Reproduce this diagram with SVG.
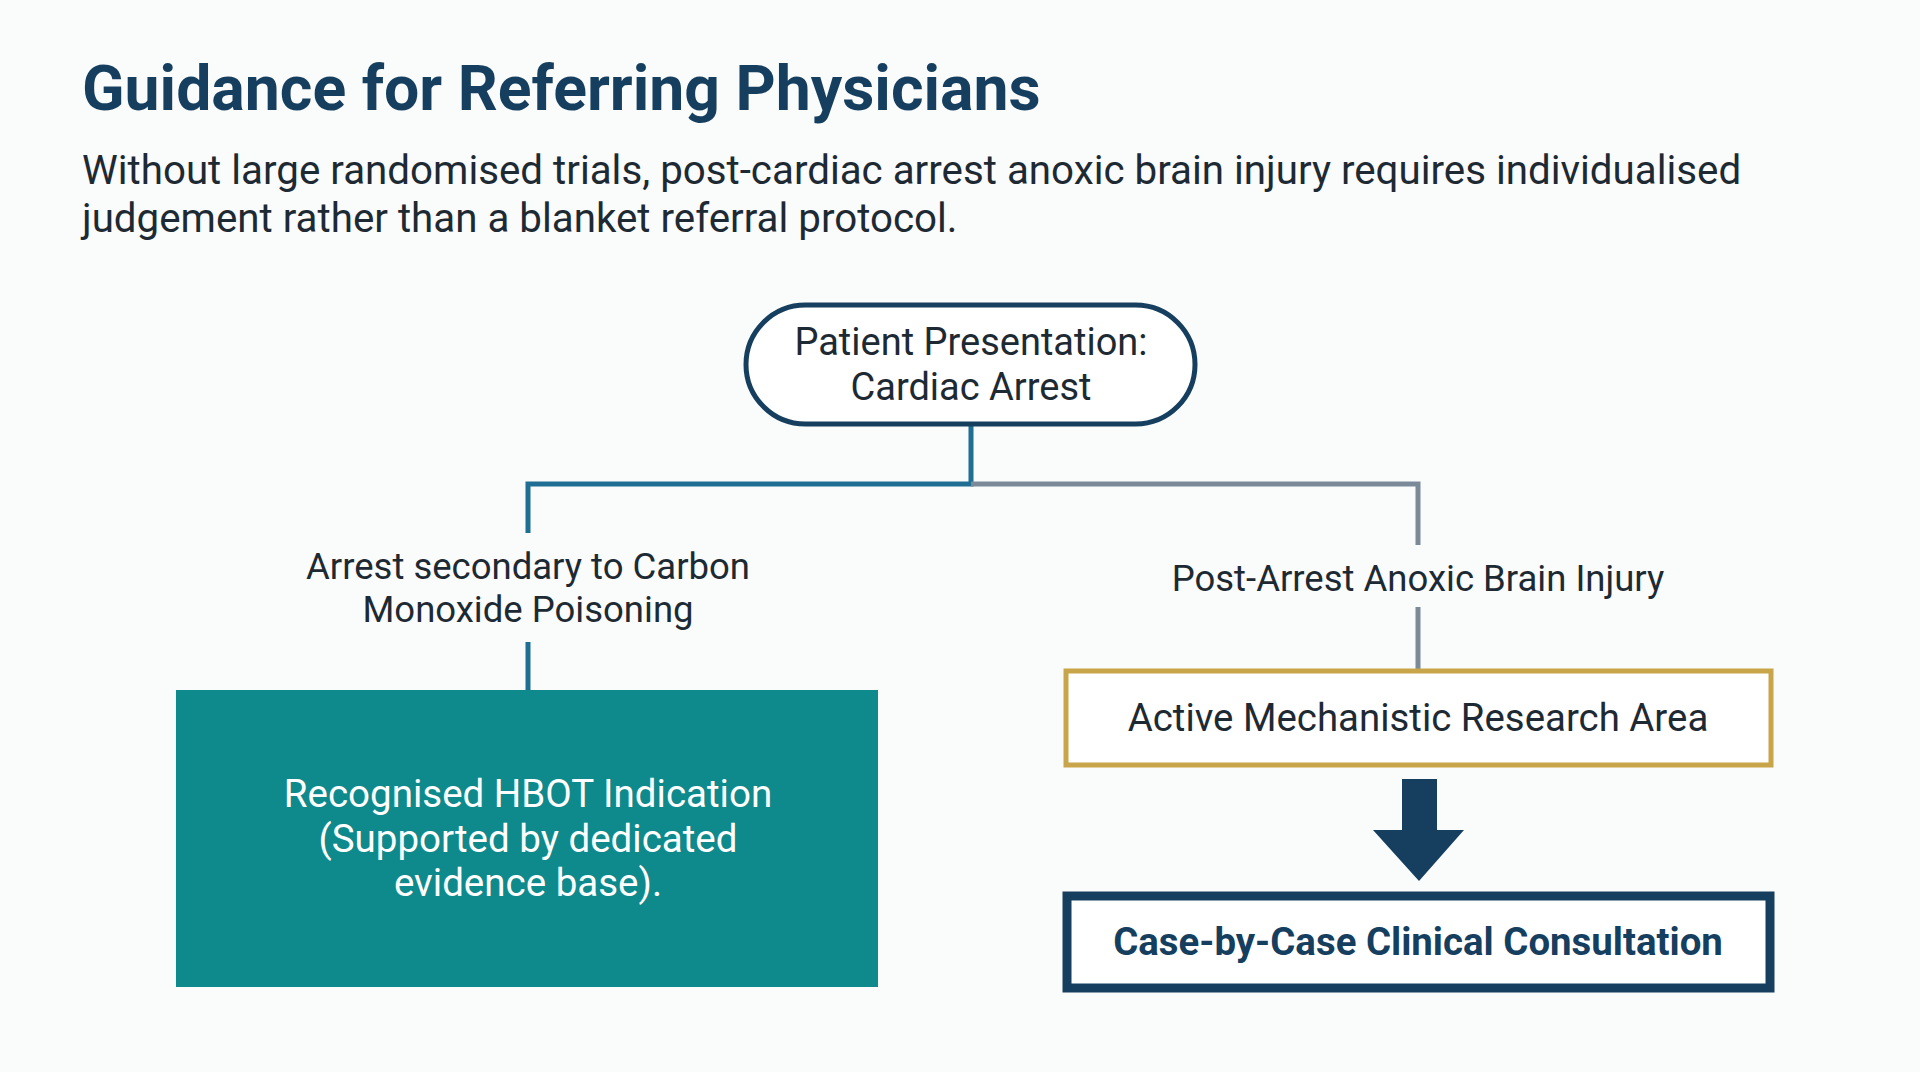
<svg xmlns="http://www.w3.org/2000/svg" width="1920" height="1072" viewBox="0 0 1920 1072">
<style>
text{font-family:Roboto,"Liberation Sans",sans-serif;fill:#1e2a33}
.c{text-anchor:middle}
.lbl{font-size:36.5px}
</style>
<rect width="1920" height="1072" fill="#fafbfb"/>
<text x="82" y="110" style="font-size:62.5px;font-weight:bold;fill:#163f5f">Guidance for Referring Physicians</text>
<text x="82" y="184" style="font-size:40.3px">Without large randomised trials, post-cardiac arrest anoxic brain injury requires individualised</text>
<text x="82" y="232" style="font-size:40.3px">judgement rather than a blanket referral protocol.</text>
<g id="connectors" fill="none" stroke-width="5">
<path d="M971 424V484H528V533" stroke="#1f6e94"/>
<path d="M971 484H1418V545" stroke="#7a8a99"/>
<path d="M528 642V690" stroke="#1f6e94"/>
<path d="M1418 607V669" stroke="#7a8a99"/>
<polygon points="1402,779 1437,779 1437,830 1464,830 1419,881 1373,830 1402,830" fill="#163f5f" stroke="none"/>
</g>
<g id="start">
<rect x="746" y="305" width="449" height="119" rx="59.5" fill="#fff" stroke="#163f5f" stroke-width="5"/>
<text x="971" y="355" class="c" style="font-size:38px">Patient Presentation:</text>
<text x="971" y="400" class="c" style="font-size:38px">Cardiac Arrest</text>
</g>
<g id="label-left">
<text x="528" y="579" class="c lbl">Arrest secondary to Carbon</text>
<text x="528" y="622" class="c lbl">Monoxide Poisoning</text>
</g>
<g id="label-right">
<text x="1418" y="591" class="c lbl">Post-Arrest Anoxic Brain Injury</text>
</g>
<g id="hbot">
<rect x="176" y="690" width="702" height="297" fill="#0e8a8c"/>
<text x="528" y="807" class="c" style="font-size:38.5px;fill:#fff">Recognised HBOT Indication</text>
<text x="528" y="852" class="c" style="font-size:38.5px;fill:#fff">(Supported by dedicated</text>
<text x="528" y="896" class="c" style="font-size:38.5px;fill:#fff">evidence base).</text>
</g>
<g id="research">
<rect x="1066" y="671" width="705" height="94" fill="#fff" stroke="#c9a54a" stroke-width="5"/>
<text x="1418" y="731" class="c" style="font-size:38.4px">Active Mechanistic Research Area</text>
</g>
<g id="consult">
<rect x="1067" y="896" width="703" height="92" fill="#fff" stroke="#163f5f" stroke-width="9"/>
<text x="1418" y="955" class="c" style="font-size:38.4px;font-weight:bold;fill:#163f5f">Case-by-Case Clinical Consultation</text>
</g>
</svg>
